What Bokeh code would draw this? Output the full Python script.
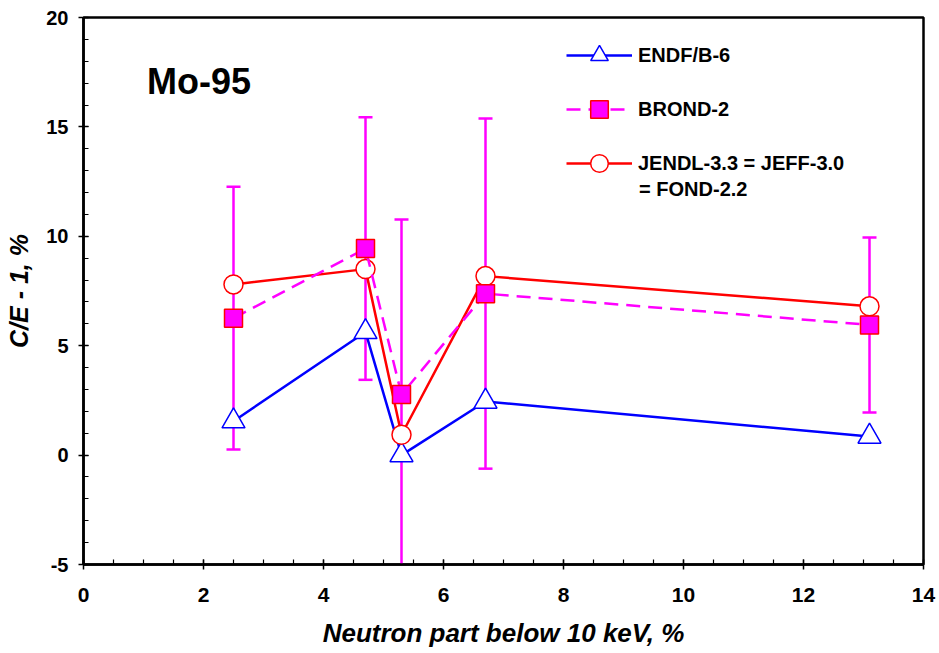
from bokeh.plotting import figure
from bokeh.models import (ColumnDataSource, Whisker, TeeHead, Legend, LegendItem,
                          Label, Range1d, SingleIntervalTicker, PrintfTickFormatter)
from bokeh.embed import file_html
from bokeh.resources import INLINE

# ---- data ----
x_vals = [2.5, 4.7, 5.3, 6.7, 13.1]
endf_b6 = [1.55, 5.63, 0.0, 2.45, 0.85]
brond_2 = [6.26, 9.44, 2.77, 7.38, 5.95]
jendl_33 = [7.8, 8.5, 0.93, 8.18, 6.8]
exp_err = [6.0, 6.0, 8.0, 8.0, 4.0]

title_text = "Mo-95"
x_label = "Neutron part below 10 keV, %"
y_label = "C/E - 1, %"
names = ["ENDF/B-6", "BROND-2", "JENDL-3.3 = JEFF-3.0", "= FOND-2.2"]

FONT = "Liberation Sans"

p = figure(width=939, height=653, output_backend="svg", toolbar_location=None,
           x_range=Range1d(0, 14), y_range=Range1d(-5, 20),
           min_border_left=83, min_border_right=16, min_border_top=17, min_border_bottom=89)
p.background_fill_color = "white"
p.border_fill_color = "white"
p.xgrid.visible = False
p.ygrid.visible = False
p.outline_line_color = "black"
p.outline_line_width = 2.5
p.outline_line_alpha = 1.0

p.xaxis.ticker = SingleIntervalTicker(interval=2, num_minor_ticks=4)
p.yaxis.ticker = SingleIntervalTicker(interval=5, num_minor_ticks=5)
for ax in (p.xaxis, p.yaxis):
    ax.formatter = PrintfTickFormatter(format="%d")
    ax.axis_line_width = 2.5
    ax.axis_line_color = "black"
    ax.major_tick_line_color = "black"
    ax.minor_tick_line_color = "black"
    ax.major_tick_line_width = 1.5
    ax.minor_tick_line_width = 1.2
    ax.major_tick_in = 5
    ax.major_tick_out = 5
    ax.minor_tick_in = 5
    ax.minor_tick_out = 0
    ax.major_label_text_font = FONT
    ax.major_label_text_font_style = "bold"
    ax.major_label_text_color = "black"
    ax.axis_label_text_font = FONT
    ax.axis_label_text_font_style = "bold italic"
    ax.axis_label_text_color = "black"
p.xaxis.major_label_text_font_size = "21px"
p.yaxis.major_label_text_font_size = "20px"
p.xaxis.axis_label_text_font_size = "26px"
p.yaxis.axis_label_text_font_size = "25px"
p.xaxis.axis_label = x_label
p.yaxis.axis_label = y_label
p.xaxis.major_label_standoff = 18
p.yaxis.major_label_standoff = 10
p.xaxis.axis_label_standoff = 13
p.yaxis.axis_label_standoff = 10

upper = [b + e for b, e in zip(brond_2, exp_err)]
lower = [b - e for b, e in zip(brond_2, exp_err)]
src = ColumnDataSource(dict(x=x_vals, endf=endf_b6, brond=brond_2, jendl=jendl_33,
                            upper=upper, lower=lower))

wh = Whisker(source=src, base="x", upper="upper", lower="lower", dimension="height",
             line_color="#FF00FF", line_width=2.5, level="underlay",
             upper_head=TeeHead(size=14, line_color="#FF00FF", line_width=2.5),
             lower_head=TeeHead(size=14, line_color="#FF00FF", line_width=2.5))
p.add_layout(wh)

l_endf = p.line("x", "endf", source=src, line_color="#0000FF", line_width=2.5)
m_endf = p.scatter("x", "endf", source=src, marker="triangle", size=23,
                   fill_color="white", line_color="#0000FF", line_width=1.5)
l_jendl = p.line("x", "jendl", source=src, line_color="#FF0000", line_width=2.5)
m_jendl = p.scatter("x", "jendl", source=src, marker="circle", size=19,
                    fill_color="white", line_color="#FF0000", line_width=1.5)
l_brond = p.line("x", "brond", source=src, line_color="#FF00FF", line_width=2.5,
                 line_dash="14 8")
m_brond = p.scatter("x", "brond", source=src, marker="square", size=18,
                    fill_color="#FF00FF", line_color="#FF0000", line_width=1.5)

legend = Legend(items=[
    LegendItem(label=names[0], renderers=[l_endf, m_endf]),
    LegendItem(label=names[1], renderers=[l_brond, m_brond]),
    LegendItem(label=names[2], renderers=[l_jendl, m_jendl]),
], location=(483, 379))
legend.glyph_width = 66
legend.glyph_height = 44
legend.spacing = 10
legend.padding = 0
legend.margin = 0
legend.label_standoff = 6
legend.border_line_color = None
legend.background_fill_alpha = 0
legend.label_text_font = FONT
legend.label_text_font_style = "bold"
legend.label_text_font_size = "20px"
legend.label_text_color = "black"
p.add_layout(legend)

p.add_layout(Label(x=9.26, y=12.15, text=names[3], text_font=FONT,
                   text_font_style="bold", text_font_size="20px",
                   text_baseline="middle", text_color="black"))
p.add_layout(Label(x=1.06, y=17.08, text=title_text, text_font=FONT,
                   text_font_style="bold", text_font_size="36px",
                   text_baseline="middle", text_color="black"))

open("out.html", "w").write(file_html(p, INLINE))
